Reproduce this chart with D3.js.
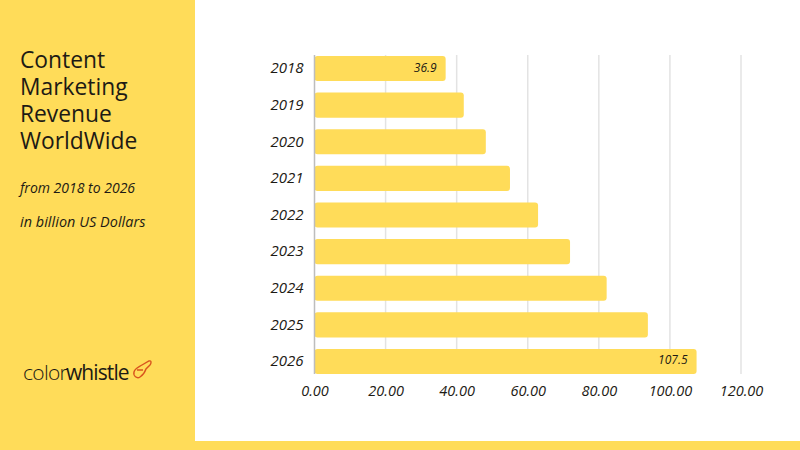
<!DOCTYPE html>
<html><head><meta charset="utf-8">
<script src="https://cdn.jsdelivr.net/npm/d3@7"></script>
<style>
html,body{margin:0;padding:0;background:#fff}
svg{display:block}
text{font-family:"Open Sans","Noto Sans",sans-serif;fill:#1d1a14}
</style></head><body>
<svg id="c" width="800" height="450"></svg>
<script>
const years = ["2018","2019","2020","2021","2022","2023","2024","2025","2026"];
const revenue = [36.9,42,48.2,55,62.9,71.9,82.2,93.8,107.5];
const valueLabels = {"2018":"36.9","2026":"107.5"};
const xTicks = [0,20,40,60,80,100,120];
const titleLines = ["Content","Marketing","Revenue","WorldWide"];
const subtitles = ["from 2018 to 2026","in billion US Dollars"];

const svg = d3.select("#c");
const yellow = "#ffdc59";
const ink = "#1d1a14";
const face = '"Open Sans","Noto Sans",sans-serif';
svg.append("rect").attr("x",0).attr("y",0).attr("width",195).attr("height",450).attr("fill",yellow);
svg.append("rect").attr("x",195).attr("y",441).attr("width",605).attr("height",9).attr("fill",yellow);

svg.append("text").attr("class","title").attr("font-size",22.8)
  .selectAll("tspan").data(titleLines).join("tspan")
  .attr("x",20).attr("y",(d,i)=>68+i*27).text(d=>d);
svg.selectAll("text.sub").data(subtitles).join("text").attr("class","sub")
  .attr("x",20).attr("y",(d,i)=>193+i*34).attr("font-size",(d,i)=>i?14.4:14).attr("font-style","italic")
  .attr("letter-spacing",(d,i)=>i?0.05:0).text(d=>d);

const x = d3.scaleLinear().domain([0,120]).range([314.5,741]);
const y = d3.scaleBand().domain(years).range([50.14,379.86]).paddingInner(0.3174).paddingOuter(0.16);

const g = svg.append("g");
g.selectAll("line.grid").data(xTicks.slice(1)).join("line").attr("class","grid")
  .attr("x1",d=>x(d)).attr("x2",d=>x(d)).attr("y1",55).attr("y2",374)
  .attr("stroke","#e3e3e3").attr("stroke-width",1.5);

g.selectAll("rect.bar").data(years).join("rect").attr("class","bar")
  .attr("x",x(0)).attr("y",d=>y(d))
  .attr("width",(d,i)=>x(revenue[i])-x(0)).attr("height",y.bandwidth())
  .attr("rx",3).attr("fill",yellow);

g.append("line").attr("x1",x(0)).attr("x2",x(0)).attr("y1",55).attr("y2",374)
  .attr("stroke","#bdbdbd").attr("stroke-width",1.5);

const xAxis = d3.axisBottom(x).tickValues(xTicks).tickFormat(d3.format(".2f")).tickSize(0);
const ax = svg.append("g").attr("transform","translate(0,380)").call(xAxis);
ax.select(".domain").remove();
ax.selectAll("text").attr("font-size",14.5).attr("font-style","italic").attr("dy","0.9em")
  .style("font-family",face).attr("fill",ink);

const yAxis = d3.axisLeft(y).tickSize(0);
const ay = svg.append("g").attr("transform","translate(303.5,0)").call(yAxis);
ay.select(".domain").remove();
ay.selectAll("text").attr("x",0).attr("font-size",15).attr("font-style","italic")
  .style("font-family",face).attr("fill",ink);

g.selectAll("text.val").data(years.filter(d=>valueLabels[d])).join("text").attr("class","val")
  .attr("x",d=>x(revenue[years.indexOf(d)])-9).attr("y",d=>y(d)+y.bandwidth()/2+3)
  .attr("text-anchor","end").attr("font-size",12).attr("font-style","italic").text(d=>valueLabels[d]);

// logo
const logo = svg.append("g");
logo.append("text").attr("x",23).attr("y",380).attr("font-size",21).attr("letter-spacing",-0.7)
  .style("font-family",face).attr("font-weight",300).text("color");
logo.append("text").attr("x",66).attr("y",380).attr("font-size",21).attr("letter-spacing",-0.9)
  .style("font-family",face).attr("font-weight",500).text("whistle");
logo.append("path").attr("d","M134 372 C135 368 139 367 142 365 L149 361 C152 360 151 364 150 365 L146 369 C145 372 143 375 140 377 C137 379 133 376 134 372 Z M143 370 L137 370")
  .attr("fill","none").attr("stroke","#d9541e").attr("stroke-width",1.4);
</script>
</body></html>
